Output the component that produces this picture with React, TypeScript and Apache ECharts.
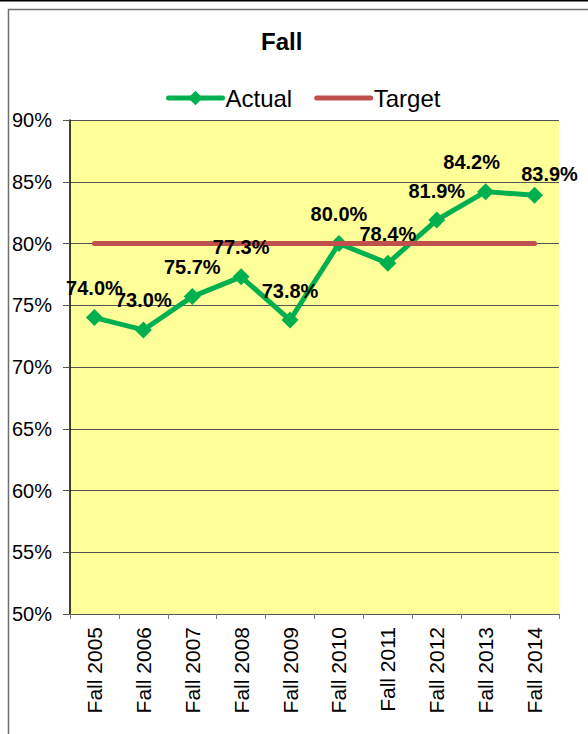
import React, { useEffect, useRef } from "react";
import * as echarts from "echarts";

const categories = ["Fall 2005", "Fall 2006", "Fall 2007", "Fall 2008", "Fall 2009", "Fall 2010", "Fall 2011", "Fall 2012", "Fall 2013", "Fall 2014"];
const actualValues = [74.0, 73.0, 75.7, 77.3, 73.8, 80.0, 78.4, 81.9, 84.2, 83.9];
const targetValues = [80, 80, 80, 80, 80, 80, 80, 80, 80, 80];
const yMin = 50;
const yMax = 90;
const yInterval = 5;

const FONT = "'Liberation Sans', Arial, sans-serif";

export default function App() {
  const ref = useRef<HTMLDivElement>(null);
  useEffect(() => {
    if (!ref.current) return;
    const chart = echarts.init(ref.current, null, { renderer: "svg" });
    const labelOffsets: Record<number, number[]> = { 8: [-14, 0], 9: [15, 8] };
    chart.setOption({
      animation: false,
      backgroundColor: "#ffffff",
      title: {
        text: "Fall",
        left: 261,
        top: 29,
        padding: 0,
        textStyle: { fontFamily: FONT, fontSize: 24, fontWeight: "bold", color: "#000" },
      },
      legend: {
        left: 166,
        top: 86,
        padding: 0,
        itemWidth: 54,
        itemHeight: 18,
        itemGap: 22,
        lineStyle: { width: 5, cap: "round" },
        textStyle: { fontFamily: FONT, fontSize: 24, color: "#000", padding: [0, 0, 0, -2] },
        data: [
          { name: "Actual" },
          { name: "Target", itemStyle: { opacity: 0 } },
        ],
      },
      grid: { left: 70, top: 120, width: 489, height: 494, containLabel: false },
      xAxis: {
        type: "category",
        data: categories,
        boundaryGap: true,
        axisLine: { lineStyle: { color: "#555", width: 1 } },
        axisTick: { show: true, length: 5, alignWithLabel: false, lineStyle: { color: "#777" } },
        axisLabel: { rotate: 90, margin: 13, fontFamily: FONT, fontSize: 21, color: "#000", interval: 0 },
        splitLine: { show: false },
      },
      yAxis: {
        type: "value",
        min: yMin,
        max: yMax,
        interval: yInterval,
        axisLine: { show: true, lineStyle: { color: "#000", width: 1.5 } },
        axisTick: { show: true, inside: false, length: 7, lineStyle: { color: "#555" } },
        axisLabel: { formatter: "{value}%", margin: 18, fontFamily: FONT, fontSize: 20, color: "#000" },
        splitLine: { show: true, lineStyle: { color: "#555", width: 1 } },
        splitArea: { show: false },
      },
      graphic: [
        {
          type: "rect",
          shape: { x: 70, y: 120, width: 489, height: 494 },
          style: { fill: "#FFFF99" },
          z: -10,
          silent: true,
        },
        {
          type: "rect",
          shape: { x: 8.5, y: 9.5, width: 700, height: 800 },
          style: { fill: "none", stroke: "#6f6f6f", lineWidth: 1.5 },
          z: -20,
          silent: true,
        },
        {
          type: "line",
          shape: { x1: 0, y1: 0.5, x2: 588, y2: 0.5 },
          style: { stroke: "#000", lineWidth: 2 },
          silent: true,
        },
      ],
      series: [
        {
          name: "Actual",
          type: "line",
          data: actualValues,
          symbol: "diamond",
          symbolSize: 17,
          itemStyle: { color: "#00B050" },
          lineStyle: { color: "#00B050", width: 5 },
          z: 3,
        },
        {
          name: "Target",
          type: "line",
          data: targetValues,
          symbol: "none",
          itemStyle: { color: "#C0504D" },
          lineStyle: { color: "#C0504D", width: 5, cap: "round" },
          z: 4,
        },
        {
          name: "ActualLabels",
          type: "line",
          data: actualValues.map((v, i) => ({
            value: v,
            label: labelOffsets[i] ? { offset: labelOffsets[i] } : undefined,
          })),
          symbol: "diamond",
          symbolSize: 17,
          itemStyle: { color: "rgba(0,0,0,0)" },
          lineStyle: { width: 0, color: "rgba(0,0,0,0)" },
          silent: true,
          label: {
            show: true,
            position: "top",
            distance: 11,
            formatter: (p: any) => `${Number(p.value).toFixed(1)}%`,
            fontFamily: FONT,
            fontSize: 20,
            fontWeight: "bold",
            color: "#000",
          },
          z: 6,
        },
      ],
    });
    return () => chart.dispose();
  }, []);
  return (
    <div
      ref={ref}
      style={{ position: "absolute", left: 0, top: 0, width: 588, height: 734 }}
    />
  );
}
